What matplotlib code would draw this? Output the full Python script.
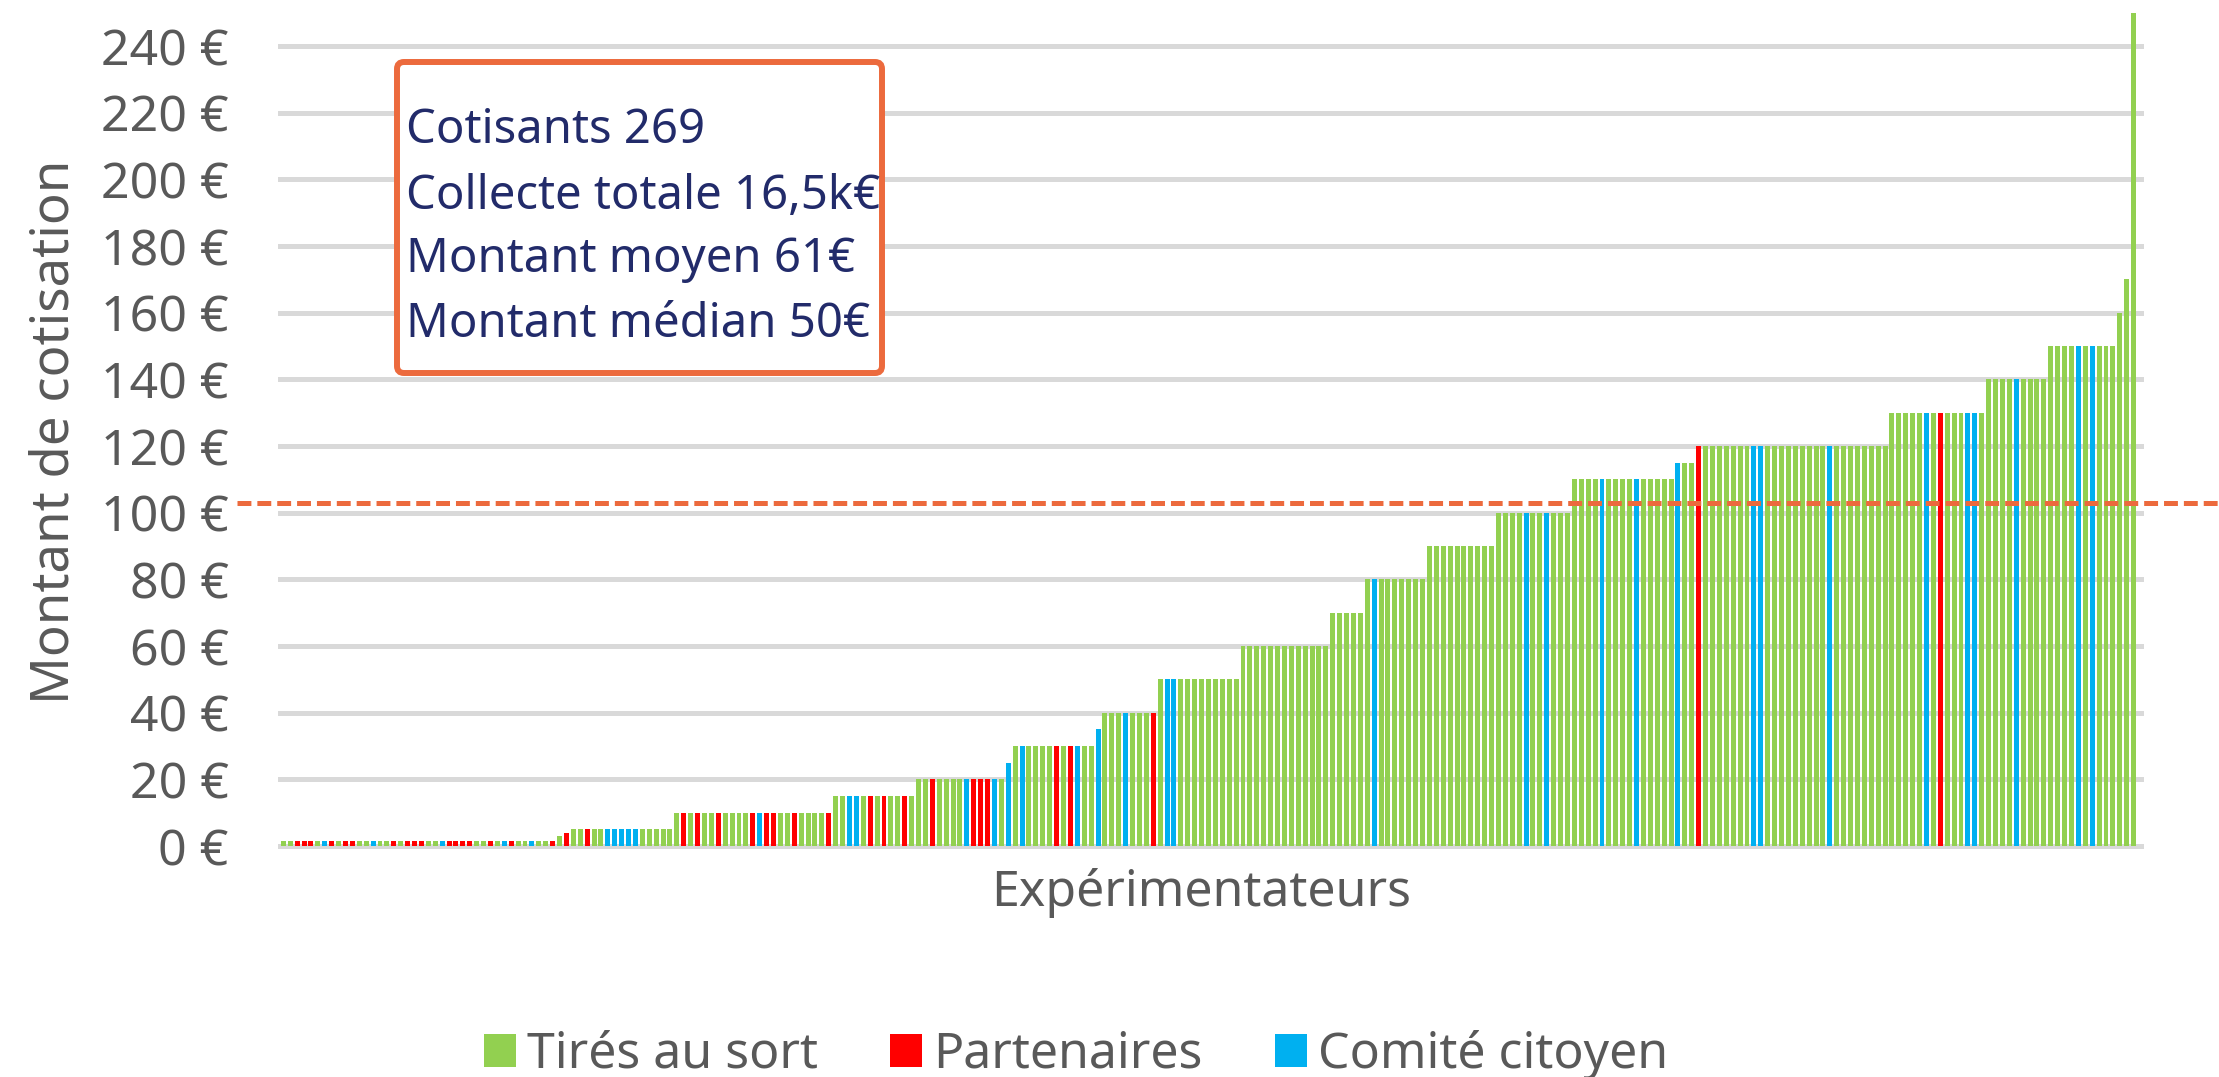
import matplotlib
matplotlib.use("Agg")
import matplotlib.pyplot as plt
from matplotlib import font_manager
from matplotlib.patches import Patch, FancyBboxPatch
from matplotlib.transforms import blended_transform_factory, IdentityTransform
import numpy as np

# ---------------- data ----------------
values = [
    1.5, 1.5, 1.5, 1.5, 1.5, 1.5, 1.5, 1.5, 1.5, 1.5, 1.5, 1.5, 1.5, 1.5, 1.5, 1.5, 1.5, 1.5, 1.5, 1.5,
    1.5, 1.5, 1.5, 1.5, 1.5, 1.5, 1.5, 1.5, 1.5, 1.5, 1.5, 1.5, 1.5, 1.5, 1.5, 1.5, 1.5, 1.5, 1.5, 1.5,
    3, 4,
    5, 5, 5, 5, 5, 5, 5, 5, 5, 5, 5, 5, 5, 5, 5,
    10, 10, 10, 10, 10, 10, 10, 10, 10, 10, 10, 10,
    10, 10, 10, 10, 10, 10, 10, 10, 10, 10, 10,
    15, 15, 15, 15, 15, 15, 15, 15, 15, 15, 15, 15,
    20, 20, 20, 20, 20, 20, 20, 20, 20, 20, 20, 20, 20,
    25,
    30, 30, 30, 30, 30, 30, 30, 30, 30, 30, 30, 30,
    35,
    40, 40, 40, 40, 40, 40, 40, 40,
    50, 50, 50, 50, 50, 50, 50, 50, 50, 50, 50, 50,
    60, 60, 60, 60, 60, 60, 60, 60, 60, 60, 60, 60, 60,
    70, 70, 70, 70, 70,
    80, 80, 80, 80, 80, 80, 80, 80, 80,
    90, 90, 90, 90, 90, 90, 90, 90, 90, 90,
    100, 100, 100, 100, 100, 100, 100, 100, 100, 100, 100,
    110, 110, 110, 110, 110, 110, 110, 110, 110, 110, 110, 110, 110, 110, 110,
    115, 115, 115,
    120, 120, 120, 120, 120, 120, 120, 120, 120, 120, 120, 120, 120, 120,
    120, 120, 120, 120, 120, 120, 120, 120, 120, 120, 120, 120, 120, 120,
    130, 130, 130, 130, 130, 130, 130, 130, 130, 130, 130, 130, 130, 130,
    140, 140, 140, 140, 140, 140, 140, 140, 140,
    150, 150, 150, 150, 150, 150, 150, 150, 150, 150,
    160, 170, 250,
]

# T = Tirés au sort, P = Partenaires, C = Comité citoyen (one letter per bar)
categories = list(
    "TTPPPTCPTP" "PTTCTTPTPP" "PTTCPPPPTT" "PTCPTTCTTP" "TPTTPTTCCC"
    "CCTTTTTTPT" "PTTPTTTTPC" "PPTTPTTTTP" "TTCCTPTPTT" "PTTTPTTTTC"
    "PPPCTCTCTT" "TTPTPCTTCT" "TTCTTTPTCC" "TTTTTTTTTT" "TTTTTTTTTT"
    "TTTTTTTTCT" "TTTTTTTTTT" "TTTTTTTTTT" "CTTCTTTTTT" "TCTTTTCTTT"
    "TTCTTPTTTT" "TTTCCTTTTT" "TTTTCTTTTT" "TTTTTTTTCT" "PTTTCCTTTT"
    "TCTTTTTTTT" "CTCTTTTTT"
)

series_names = ["Tirés au sort", "Partenaires", "Comité citoyen"]
series_codes = ["T", "P", "C"]
ytick_values = [0, 20, 40, 60, 80, 100, 120, 140, 160, 180, 200, 220, 240]
ytick_labels = ["0 €", "20 €", "40 €", "60 €", "80 €", "100 €", "120 €", "140 €",
                "160 €", "180 €", "200 €", "220 €", "240 €"]
threshold = 103
info_lines = ["Cotisants 269", "Collecte totale 16,5k€",
              "Montant moyen 61€", "Montant médian 50€"]

# ---------------- style ----------------
W, H = 2219, 1077
GREEN, RED, BLUE = "#92D050", "#FF0000", "#00B0F0"
code_colors = {"T": GREEN, "P": RED, "C": BLUE}
GRAY_TXT = "#595959"
ORANGE = "#EC6A3D"
NAVY = "#222B6A"
plt.rcParams["font.family"] = ["Noto Sans", "DejaVu Sans"]
plt.rcParams["lines.scale_dashes"] = False

# narrow font for the info box, if one is installed
installed = {f.name for f in font_manager.fontManager.ttflist}
if "Liberation Sans Narrow" in installed:
    box_font = dict(family=["Liberation Sans Narrow", "DejaVu Sans"], fontsize=39)
elif "DejaVu Sans Condensed" in installed:
    box_font = dict(family=["DejaVu Sans Condensed", "DejaVu Sans"], fontsize=36)
else:
    box_font = dict(family=["Noto Sans", "DejaVu Sans"], fontsize=34)

fig = plt.figure(figsize=(W / 100, H / 100), dpi=100)
ax = fig.add_axes([280 / W, 1 - 846 / H, (2141 - 280) / W, (846 - 12.7) / H])

x = np.arange(len(values))
ax.bar(x, values, width=0.72, color=[code_colors[c] for c in categories],
       linewidth=0, zorder=2)

ax.set_xlim(-0.485, 269.07)
ax.set_ylim(0, 250)
ax.set_yticks(ytick_values)
ax.set_yticklabels(ytick_labels)
ax.set_xticks([])
ax.tick_params(axis="y", length=0, pad=37, labelsize=36, labelcolor=GRAY_TXT)
for s in ax.spines.values():
    s.set_visible(False)
ax.set_axisbelow(True)
ax.yaxis.grid(True, color="#D9D9D9", linewidth=3.6)
for gl in ax.get_ygridlines():
    gl.set_clip_on(False)

# dashed threshold line spanning to the right edge of the figure
blend = blended_transform_factory(fig.transFigure, ax.transData)
ax.plot([237 / W, 1.0], [threshold, threshold], transform=blend, clip_on=False,
        color=ORANGE, linewidth=3.6, dashes=(10, 4.3), zorder=5)

# axis titles
fig.text(1201 / W, 1 - 893 / H, "Expérimentateurs", ha="center", va="center",
         fontsize=36, color=GRAY_TXT)
fig.text(55 / W, 1 - 432 / H, "Montant de cotisation", ha="center", va="center",
         rotation=90, fontsize=38, color=GRAY_TXT)

# info box
box = FancyBboxPatch((397, H - 373), 485, 311, boxstyle="round,pad=0,rounding_size=7",
                     transform=IdentityTransform(), facecolor="white",
                     edgecolor=ORANGE, linewidth=4.3, zorder=6)
fig.patches.append(box)
baselines = [143, 209, 272, 337]
for line, yb in zip(info_lines, baselines):
    fig.text(406 / W, 1 - yb / H, line, ha="left", va="baseline",
             color=NAVY, zorder=7, **box_font)

# legend
handles = [Patch(facecolor=code_colors[c], edgecolor="none") for c in series_codes]
fig.legend(handles, series_names, loc="center", bbox_to_anchor=(1076 / W, 1 - 1055 / H),
           ncol=3, frameon=False, fontsize=36, labelcolor=GRAY_TXT,
           handlelength=0.64, handleheight=0.64, handletextpad=0.22,
           columnspacing=1.45, borderpad=0)

fig.savefig("out.png", dpi=100)
